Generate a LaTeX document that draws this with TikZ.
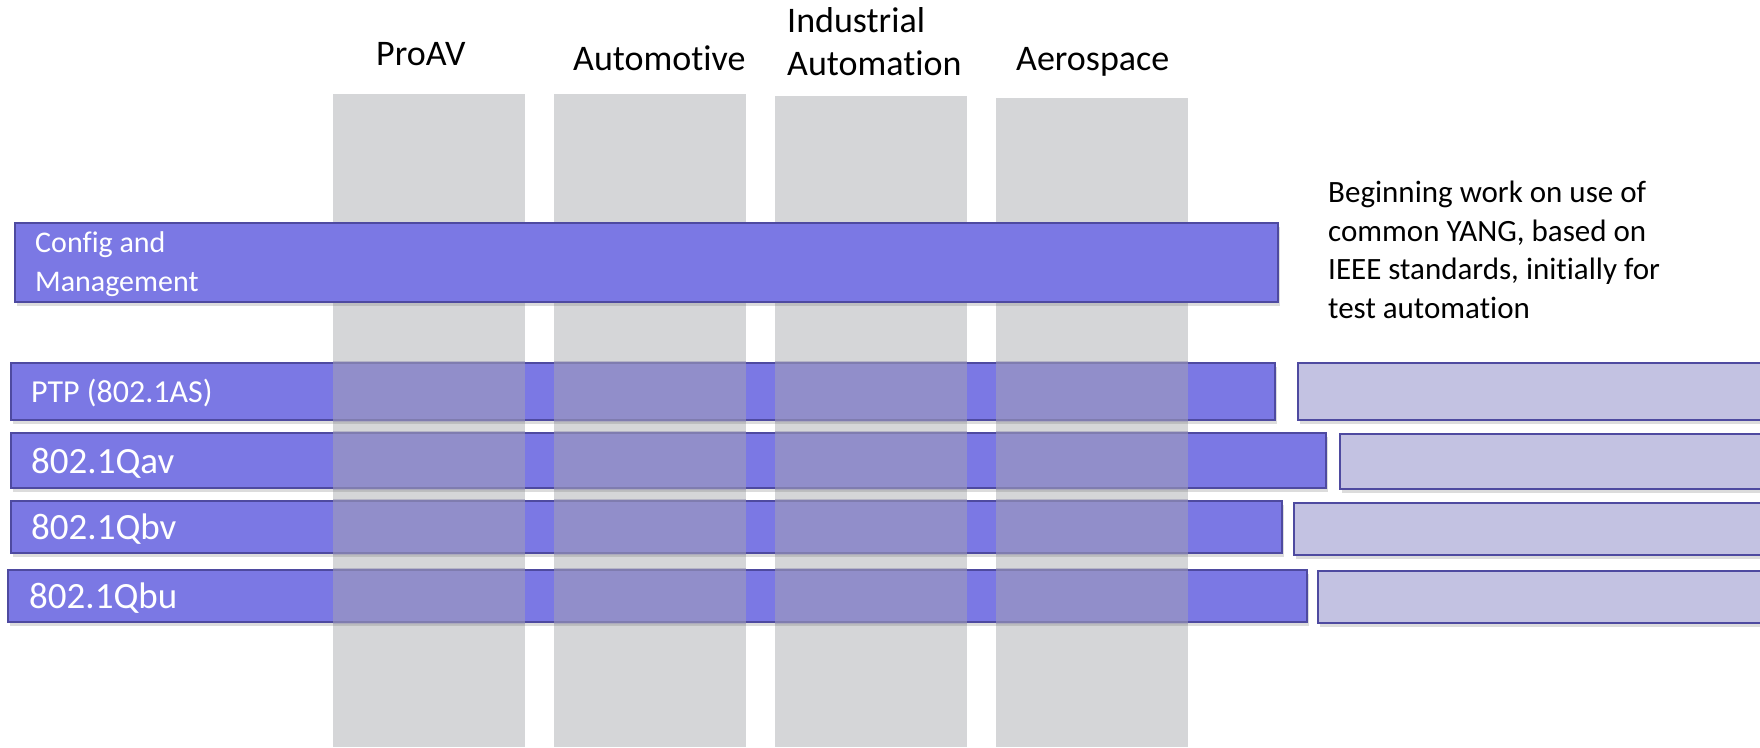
\documentclass[tikz,border=0pt]{standalone}
\usepackage{fontspec}
\setmainfont[Ligatures=NoCommon]{Carlito}
\usetikzlibrary{shadows}
\definecolor{colgray}{RGB}{213,214,216}
\definecolor{barfill}{RGB}{123,120,228}
\definecolor{barline}{RGB}{78,74,160}
\definecolor{lightfill}{RGB}{195,194,226}
\definecolor{ovl}{RGB}{161,158,186}
\begin{document}
\begin{tikzpicture}[x=1pt,y=-1pt,
  col/.style={fill=colgray},
  bshadow/.style={drop shadow={opacity=0.28, shadow xshift=1.5pt, shadow yshift=-3.5pt}},
  darkbar/.style={fill=barfill, draw=barline, line width=2pt, bshadow},
  lightbar/.style={fill=lightfill, draw=barline, line width=2pt, bshadow},
  barlabel/.style={text=white, anchor=base west, inner sep=0pt, align=left},
  collabel/.style={anchor=base west, inner sep=0pt, align=left, font=\fontsize{36}{43}\selectfont}]
\useasboundingbox (0,0) rectangle (1760,747);
% columns
\fill[col] (333,94) rectangle (525,747);
\fill[col] (554,94) rectangle (746,747);
\fill[col] (775,96) rectangle (967,747);
\fill[col] (996,98) rectangle (1188,747);
% column labels
\node[collabel] (proav) at (376,65) {ProAV};
\node[collabel] (auto) at (573,70) {Automotive};
\node[collabel] (indus) at (787,75) {Industrial\\Automation};
\node[collabel] (aero) at (1016,70) {Aerospace};
% config bar
\path[darkbar] (15,223) rectangle (1278,302);
\node[barlabel, font=\fontsize{30}{39}\selectfont] (cfg) at (35,291) {Config and\\Management};
% lower bars
\path[darkbar] (11,363) rectangle (1275,420);
\path[lightbar] (1298,363) rectangle (1775,420);
\path[darkbar] (11,433) rectangle (1326,488);
\path[lightbar] (1340,434) rectangle (1775,489);
\path[darkbar] (11,501) rectangle (1282,553);
\path[lightbar] (1294,503) rectangle (1775,555);
\path[darkbar] (8,570) rectangle (1307,622);
\path[lightbar] (1318,571) rectangle (1775,623);
% overlay of columns on lower bars
\begin{scope}
\clip (5,361) rectangle (1290,422) (5,431) rectangle (1330,490)
      (5,499) rectangle (1290,555) (5,568) rectangle (1310,624);
\fill[ovl, fill opacity=0.6] (333,94) rectangle (525,747);
\fill[ovl, fill opacity=0.6] (554,94) rectangle (746,747);
\fill[ovl, fill opacity=0.6] (775,96) rectangle (967,747);
\fill[ovl, fill opacity=0.6] (996,98) rectangle (1188,747);
\end{scope}
% bar labels
\node[barlabel, font=\fontsize{32}{38}\selectfont] (ptp) at (31,402) {PTP (802.1AS)};
\node[barlabel, font=\fontsize{37}{43}\selectfont] (qav) at (31,473) {802.1Qav};
\node[barlabel, font=\fontsize{37}{43}\selectfont] (qbv) at (31,539) {802.1Qbv};
\node[barlabel, font=\fontsize{37}{43}\selectfont] (qbu) at (29,608) {802.1Qbu};
% note
\node[anchor=base west, inner sep=0pt, align=left, font=\fontsize{31}{38.5}\selectfont] (note) at (1328,318)
  {Beginning work on use of\\common YANG, based on\\IEEE standards, initially for\\test automation};
\end{tikzpicture}
\end{document}
